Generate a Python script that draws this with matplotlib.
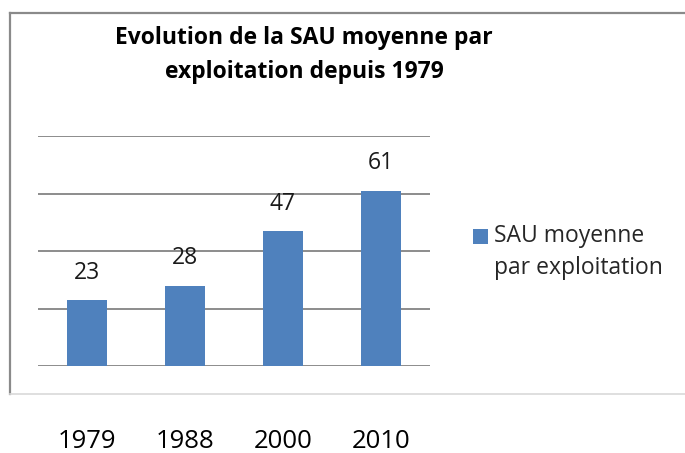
import matplotlib.pyplot as plt
from matplotlib.lines import Line2D
from matplotlib.patches import Rectangle
from matplotlib.container import BarContainer
from matplotlib.legend_handler import HandlerPatch, update_from_first_child

annees = ["1979", "1988", "2000", "2010"]
sau = [23, 28, 47, 61]
serie = "SAU moyenne\npar exploitation"
titre = "Evolution de la SAU moyenne par\nexploitation depuis 1979"

plt.rcParams['font.family'] = ['Open Sans', 'DejaVu Sans']

W, H = 685, 453
fig = plt.figure(figsize=(W / 100, H / 100), dpi=100)
ax = fig.add_axes([38 / W, 1 - 366 / H, 392 / W, 230 / H])

x = range(len(annees))
bars = ax.bar(x, sau, width=0.4, color="#4F81BD", label=serie, zorder=3)
for b, v in zip(bars, sau):
    ax.annotate(str(v), (b.get_x() + b.get_width() / 2, v), xytext=(0, 11),
                textcoords="offset points", ha="center", va="bottom",
                fontsize=16.5, color="#1a1a1a")

ax.set_xlim(-0.5, 3.5)
ax.set_ylim(0, 80)
ax.set_yticks([0, 20, 40, 60, 80])
ax.yaxis.grid(True, color="#8c8c8c", linewidth=1.4, zorder=0)
ax.set_yticklabels([])
ax.tick_params(axis="y", length=0)
ax.set_xticks(list(x))
ax.set_xticklabels(annees, fontsize=18.5, color="#000000")
ax.tick_params(axis="x", length=0, pad=45)
for s in ax.spines.values():
    s.set_visible(False)

fig.text(304 / W, 1 - 55 / H, titre, ha="center", va="center",
         fontsize=16.5, fontweight="bold", linespacing=1.5)


# carré de légende aligné sur la première ligne
def carre(legend, orig_handle, xdescent, ydescent, width, height, fontsize):
    return Rectangle((-xdescent, -ydescent + 12), width, height)


leg = ax.legend(loc="center left", bbox_to_anchor=(452 / W, 1 - 252 / H),
                bbox_transform=fig.transFigure, frameon=False, fontsize=16.5,
                handlelength=0.65, handleheight=0.65, handletextpad=0.3,
                labelcolor="#262626",
                handler_map={BarContainer: HandlerPatch(
                    patch_func=carre, update_func=update_from_first_child)})
leg.get_texts()[0].set_linespacing(1.45)

# cadre du graphique
fig.add_artist(Line2D([10 / W, 10 / W], [1 - 13 / H, 1 - 394 / H],
                      color="#8a8a8a", linewidth=1.6))
fig.add_artist(Line2D([10 / W, 1.0], [1 - 13 / H, 1 - 13 / H],
                      color="#8a8a8a", linewidth=1.6))
fig.add_artist(Line2D([10 / W, 1.0], [1 - 394 / H, 1 - 394 / H],
                      color="#d9d9d9", linewidth=1.2))

fig.savefig("out.png", dpi=100)
